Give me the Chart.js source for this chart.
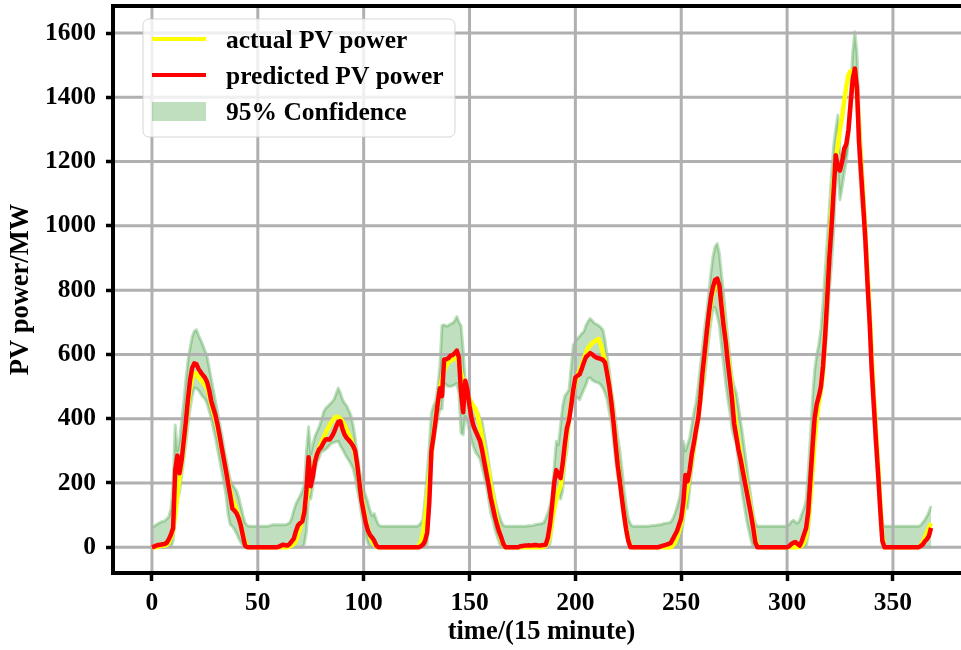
<!DOCTYPE html>
<html>
<head>
<meta charset="utf-8">
<title>PV power forecast</title>
<script src="https://cdn.jsdelivr.net/npm/chart.js@4.4.0/dist/chart.umd.min.js"></script>
<style>
html, body { margin: 0; padding: 0; background: #fff; overflow: hidden; }
#wrap { width: 990px; height: 650px; }
</style>
</head>
<body>
<div id="wrap"><canvas id="pvChart" width="990" height="650"></canvas></div>
<script>
// one value per 15-minute step, steps 0..368
var actualPower = [
	0, 0, 0, 2, 5, 5, 5, 8, 15, 30,
	55, 100, 160, 215, 260, 320, 380, 440, 490, 525,
	542, 540, 530, 520, 512, 505, 495, 475, 445, 420,
	398, 370, 338, 305, 272, 240, 205, 175, 150, 135,
	115, 95, 70, 40, 15, 3, 0, 0, 0, 0,
	0, 0, 0, 0, 0, 0, 0, 0, 0, 0,
	0, 0, 0, 0, 0, 3, 5, 10, 20, 40,
	60, 85, 115, 150, 185, 215, 245, 270, 290, 310,
	325, 340, 355, 368, 380, 392, 400, 406, 405, 400,
	392, 380, 365, 350, 335, 315, 290, 250, 205, 160,
	120, 85, 55, 35, 20, 8, 2, 0, 0, 0,
	0, 0, 0, 0, 0, 0, 0, 0, 0, 0,
	0, 0, 0, 0, 0, 0, 5, 15, 45, 90,
	150, 220, 290, 350, 400, 450, 490, 525, 550, 565,
	575, 580, 585, 590, 588, 570, 540, 520, 495, 475,
	460, 448, 438, 428, 405, 375, 340, 305, 270, 235,
	195, 160, 120, 85, 50, 22, 8, 0, 0, 0,
	0, 0, 0, 0, 0, 0, 0, 0, 0, 0,
	0, 0, 0, 0, 0, 2, 5, 15, 40, 80,
	120, 150, 175, 190, 240, 300, 350, 400, 445, 485,
	515, 535, 550, 565, 585, 605, 620, 628, 635, 640,
	645, 648, 630, 605, 580, 545, 505, 455, 395, 330,
	265, 210, 155, 105, 60, 25, 5, 0, 0, 0,
	0, 0, 0, 0, 0, 0, 0, 0, 0, 0,
	0, 0, 0, 0, 0, 0, 5, 15, 30, 50,
	75, 110, 150, 190, 230, 270, 315, 360, 405, 455,
	520, 585, 650, 710, 760, 795, 815, 822, 800, 765,
	705, 650, 595, 545, 490, 430, 375, 330, 290, 255,
	220, 185, 150, 112, 72, 30, 5, 0, 0, 0,
	0, 0, 0, 0, 0, 0, 0, 0, 0, 0,
	0, 0, 0, 0, 0, 0, 2, 5, 15, 35,
	80, 150, 240, 330, 400, 450, 490, 545, 660, 790,
	920, 1040, 1140, 1210, 1250, 1300, 1340, 1390, 1435, 1470,
	1482, 1480, 1470, 1420, 1300, 1190, 1085, 975, 850, 730,
	590, 470, 360, 255, 140, 35, 0, 0, 0, 0,
	0, 0, 0, 0, 0, 0, 0, 0, 0, 0,
	0, 0, 0, 5, 15, 30, 45, 60, 75
];

var predictedPower = [
	0, 2, 5, 7, 8, 9, 10, 14, 25, 40,
	60, 240, 285, 230, 270, 330, 390, 460, 520, 558,
	572, 570, 555, 545, 536, 528, 515, 490, 455, 432,
	410, 380, 345, 308, 272, 237, 198, 160, 120, 114,
	105, 90, 67, 35, 5, 0, 0, 0, 0, 0,
	0, 0, 0, 0, 0, 0, 0, 0, 0, 0,
	2, 5, 8, 6, 5, 10, 18, 27, 50, 68,
	75, 80, 110, 180, 280, 190, 220, 265, 290, 305,
	312, 325, 335, 336, 335, 345, 358, 375, 390, 392,
	368, 350, 340, 333, 325, 315, 300, 255, 200, 145,
	110, 76, 52, 38, 30, 20, 5, 0, 0, 0,
	0, 0, 0, 0, 0, 0, 0, 0, 0, 0,
	0, 0, 0, 0, 0, 0, 0, 3, 8, 20,
	45, 140, 300, 345, 395, 450, 495, 470, 584, 585,
	588, 596, 598, 604, 612, 590, 480, 420, 518, 490,
	440, 400, 375, 360, 345, 330, 300, 265, 230, 195,
	155, 125, 95, 70, 48, 30, 10, 0, 0, 0,
	0, 0, 0, 0, 3, 4, 5, 5, 6, 5,
	6, 7, 6, 5, 6, 7, 8, 30, 70, 130,
	200, 240, 225, 215, 260, 320, 370, 395, 440, 490,
	528, 534, 538, 555, 575, 592, 598, 604, 600, 594,
	590, 588, 586, 583, 575, 540, 500, 450, 390, 320,
	255, 205, 150, 100, 55, 20, 0, 0, 0, 0,
	0, 0, 0, 0, 0, 0, 0, 0, 0, 0,
	2, 4, 6, 8, 10, 13, 25, 38, 50, 70,
	90, 140, 225, 205, 240, 290, 325, 365, 400, 460,
	540, 600, 665, 725, 775, 810, 832, 836, 815, 750,
	690, 640, 575, 520, 460, 385, 345, 305, 275, 240,
	205, 170, 135, 100, 60, 15, 0, 0, 0, 0,
	0, 0, 0, 0, 0, 0, 0, 0, 0, 0,
	0, 3, 10, 14, 16, 10, 5, 20, 40, 60,
	110, 210, 310, 400, 445, 470, 500, 565, 660, 780,
	905, 1000, 1110, 1220, 1180, 1172, 1200, 1240, 1255, 1300,
	1380, 1455, 1490, 1430, 1260, 1160, 1060, 955, 820, 700,
	550, 440, 330, 230, 120, 20, 0, 0, 0, 0,
	0, 0, 0, 0, 0, 0, 0, 0, 0, 0,
	0, 0, 0, 3, 8, 18, 25, 35, 60
];

// 95% band around the prediction
var upperBound = [
	62, 65, 70, 74, 78, 80, 82, 88, 96, 120,
	200, 380, 300, 330, 390, 450, 520, 580, 620, 655,
	672, 677, 660, 645, 630, 612, 595, 560, 525, 490,
	455, 420, 385, 350, 310, 275, 240, 210, 195, 185,
	175, 155, 127, 100, 76, 68, 65, 65, 65, 65,
	65, 65, 65, 65, 65, 66, 68, 70, 70, 70,
	70, 70, 70, 70, 72, 76, 90, 115, 135, 148,
	160, 175, 195, 300, 375, 290, 320, 345, 360, 375,
	395, 420, 432, 438, 445, 452, 460, 478, 495, 480,
	460, 448, 440, 425, 410, 380, 340, 290, 240, 200,
	180, 160, 140, 115, 98, 105, 85, 70, 66, 65,
	65, 65, 65, 65, 65, 65, 65, 65, 65, 65,
	65, 65, 65, 65, 65, 65, 68, 75, 86, 150,
	230, 320, 418, 440, 455, 500, 563, 690, 692, 688,
	690, 695, 697, 705, 718, 700, 690, 615, 515, 480,
	465, 455, 440, 425, 418, 400, 390, 350, 310, 265,
	225, 185, 150, 120, 100, 80, 68, 65, 65, 65,
	65, 65, 65, 65, 65, 65, 65, 66, 67, 67,
	68, 70, 72, 72, 74, 76, 90, 107, 130, 158,
	250, 330, 320, 380, 440, 470, 480, 490, 560, 630,
	640, 650, 656, 665, 671, 690, 703, 712, 705, 697,
	694, 690, 684, 677, 645, 595, 552, 490, 450, 395,
	345, 300, 245, 180, 130, 90, 72, 65, 65, 65,
	65, 65, 65, 65, 65, 66, 67, 68, 68, 70,
	70, 72, 74, 75, 76, 78, 88, 105, 125, 150,
	180, 330, 300, 320, 340, 380, 420, 450, 500, 560,
	620, 680, 730, 790, 853, 905, 935, 945, 915, 850,
	790, 720, 650, 590, 530, 500, 480, 440, 395, 350,
	300, 250, 200, 150, 105, 75, 65, 65, 65, 65,
	65, 65, 65, 65, 65, 65, 65, 65, 65, 65,
	66, 70, 80, 84, 78, 75, 85, 105, 120, 148,
	240, 340, 460, 550, 600, 630, 680, 760, 860, 960,
	1060, 1160, 1250, 1300, 1345, 1230, 1215, 1210, 1225, 1320,
	1420, 1540, 1604, 1540, 1360, 1240, 1125, 1010, 880, 770,
	620, 490, 370, 260, 150, 75, 65, 65, 65, 65,
	65, 65, 65, 65, 65, 65, 65, 65, 65, 65,
	65, 65, 65, 68, 76, 85, 96, 110, 128
];

var lowerBound = [
	0, 0, 0, 0, 0, 0, 0, 0, 0, 0,
	20, 100, 150, 170, 220, 270, 320, 380, 430, 470,
	495, 495, 488, 478, 468, 462, 448, 425, 402, 370,
	340, 305, 270, 235, 200, 160, 100, 70, 65, 55,
	42, 27, 15, 5, 0, 0, 0, 0, 0, 0,
	0, 0, 0, 0, 0, 0, 0, 0, 0, 0,
	0, 0, 0, 0, 0, 0, 0, 0, 0, 0,
	0, 0, 10, 50, 158, 150, 190, 240, 265, 280,
	297, 300, 304, 310, 318, 324, 326, 328, 330, 315,
	305, 292, 280, 270, 258, 245, 215, 180, 145, 100,
	70, 38, 12, 0, 0, 0, 0, 0, 0, 0,
	0, 0, 0, 0, 0, 0, 0, 0, 0, 0,
	0, 0, 0, 0, 0, 0, 0, 0, 0, 0,
	10, 120, 273, 320, 366, 400, 428, 430, 511, 505,
	500, 500, 502, 505, 510, 480, 355, 350, 407, 390,
	360, 330, 310, 293, 285, 273, 245, 218, 190, 150,
	107, 85, 55, 35, 15, 0, 0, 0, 0, 0,
	0, 0, 0, 0, 0, 0, 0, 0, 0, 0,
	0, 0, 0, 0, 0, 0, 0, 0, 10, 60,
	130, 175, 165, 150, 175, 260, 300, 380, 428, 450,
	469, 465, 459, 475, 490, 505, 525, 527, 520, 516,
	513, 511, 505, 495, 480, 459, 420, 387, 330, 270,
	220, 190, 140, 86, 40, 15, 0, 0, 0, 0,
	0, 0, 0, 0, 0, 0, 0, 0, 0, 0,
	0, 0, 0, 0, 0, 0, 0, 0, 0, 10,
	34, 80, 128, 120, 180, 240, 290, 340, 400, 450,
	490, 521, 585, 646, 700, 745, 745, 720, 690, 630,
	570, 510, 460, 420, 366, 340, 324, 265, 210, 160,
	120, 80, 50, 20, 0, 0, 0, 0, 0, 0,
	0, 0, 0, 0, 0, 0, 0, 0, 0, 0,
	0, 0, 0, 0, 0, 0, 0, 0, 0, 0,
	40, 120, 220, 330, 400, 440, 480, 540, 610, 700,
	801, 880, 980, 1150, 1170, 1081, 1120, 1164, 1200, 1270,
	1350, 1434, 1454, 1382, 1200, 1080, 1019, 900, 780, 660,
	500, 390, 280, 180, 70, 0, 0, 0, 0, 0,
	0, 0, 0, 0, 0, 0, 0, 0, 0, 0,
	0, 0, 0, 0, 0, 0, 0, 0, 0
];

var xTicks = [0, 50, 100, 150, 200, 250, 300, 350];
var yTicks = [0, 200, 400, 600, 800, 1000, 1200, 1400, 1600];

function toPoints(arr) {
	return arr.map(function (v, i) { return { x: i, y: v }; });
}

var serif = "'Liberation Serif', 'Times New Roman', serif";
Chart.defaults.font.family = serif;
Chart.defaults.font.weight = "bold";
Chart.defaults.color = "#000";

var bandColor = "rgba(0, 128, 0, 0.25)";

// gray grid goes above the band but under the two curves
var gridUnderLines = {
	id: "gridUnderLines",
	beforeDatasetDraw: function (chart, args) {
		if (args.index !== 1) return;
		var a = chart.chartArea, ctx = chart.ctx;
		var sx = chart.scales.x, sy = chart.scales.y;
		ctx.save();
		ctx.beginPath();
		ctx.rect(a.left + 2, a.top + 2, a.right - a.left - 4, a.bottom - a.top - 4);
		ctx.clip();
		ctx.strokeStyle = "#b0b0b0";
		ctx.lineWidth = 3;
		xTicks.forEach(function (v) {
			var px = sx.getPixelForValue(v);
			ctx.beginPath();
			ctx.moveTo(px, a.top);
			ctx.lineTo(px, a.bottom);
			ctx.stroke();
		});
		yTicks.forEach(function (v) {
			var py = sy.getPixelForValue(v);
			ctx.beginPath();
			ctx.moveTo(a.left, py);
			ctx.lineTo(a.right, py);
			ctx.stroke();
		});
		ctx.restore();
	}
};

// top frame line plus the boxed legend in the upper left corner
var frameAndLegend = {
	id: "frameAndLegend",
	afterDraw: function (chart) {
		var a = chart.chartArea, ctx = chart.ctx;
		ctx.save();
		ctx.strokeStyle = "#000";
		ctx.lineWidth = 4;
		ctx.beginPath();
		ctx.moveTo(a.left - 2, a.top);
		ctx.lineTo(a.right + 2, a.top);
		ctx.stroke();

		var bx = a.left + 30, by = a.top + 13, bw = 312, bh = 118;
		ctx.beginPath();
		ctx.roundRect(bx, by, bw, bh, 6);
		ctx.fillStyle = "rgba(255, 255, 255, 0.8)";
		ctx.fill();
		ctx.lineWidth = 1;
		ctx.strokeStyle = "rgba(204, 204, 204, 0.8)";
		ctx.stroke();

		var ds = chart.data.datasets;
		var items = [
			{ d: ds[1], kind: "line" },
			{ d: ds[0], kind: "line" },
			{ d: ds[2], kind: "patch" }
		];
		ctx.font = "bold 25.5px " + serif;
		ctx.textBaseline = "alphabetic";
		items.forEach(function (it, i) {
			var rowY = by + 20 + i * 36;
			var hx = bx + 9;
			if (it.kind === "line") {
				ctx.strokeStyle = it.d.borderColor;
				ctx.lineWidth = 4;
				ctx.beginPath();
				ctx.moveTo(hx, rowY);
				ctx.lineTo(hx + 54, rowY);
				ctx.stroke();
			} else {
				ctx.fillStyle = it.d.backgroundColor;
				ctx.fillRect(hx, rowY - 9, 54, 19);
			}
			ctx.fillStyle = "#000";
			ctx.fillText(it.d.label, bx + 83, rowY + 9);
		});
		ctx.restore();
	}
};

function noScalePadding(scale) {
	scale.paddingTop = 0;
	scale.paddingBottom = 0;
	scale.paddingLeft = 0;
	scale.paddingRight = 0;
}

var ctx = document.getElementById("pvChart");
var pvChart = new Chart(ctx, {
	type: "line",
	data: {
		datasets: [
			{
				label: "predicted PV power",
				data: toPoints(predictedPower),
				borderColor: "#ff0000",
				borderWidth: 4.5,
				pointRadius: 0,
				fill: false
			},
			{
				label: "actual PV power",
				data: toPoints(actualPower),
				borderColor: "#ffff00",
				borderWidth: 4.5,
				pointRadius: 0,
				fill: false
			},
			{
				label: "95% Confidence",
				data: toPoints(lowerBound),
				borderColor: bandColor,
				backgroundColor: bandColor,
				borderWidth: 3,
				pointRadius: 0,
				fill: "+1"
			},
			{
				label: "upper",
				data: toPoints(upperBound),
				borderColor: bandColor,
				borderWidth: 3,
				pointRadius: 0,
				fill: false
			}
		]
	},
	options: {
		responsive: false,
		animation: false,
		events: [],
		layout: { padding: { top: 6, right: 20, left: 0, bottom: 0 } },
		elements: { line: { tension: 0, borderJoinStyle: "round" } },
		plugins: {
			legend: { display: false },
			tooltip: { enabled: false }
		},
		scales: {
			x: {
				type: "linear",
				min: -18.4,
				max: 386.4,
				afterBuildTicks: function (scale) {
					scale.ticks = xTicks.map(function (v) { return { value: v }; });
				},
				afterFit: function (scale) {
					scale.height = 77;
					noScalePadding(scale);
				},
				grid: { drawOnChartArea: false, tickLength: 8, tickColor: "#000", tickWidth: 3.5 },
				border: { color: "#000", width: 4 },
				ticks: {
					autoSkip: false,
					maxRotation: 0,
					padding: 7,
					font: { size: 25.5, weight: "bold" },
					callback: function (v) { return String(v); }
				},
				title: {
					display: true,
					text: "time/(15 minute)",
					font: { size: 26.5, weight: "bold" },
					padding: { top: 0, bottom: 2 }
				}
			},
			y: {
				min: -80.2,
				max: 1684.2,
				afterBuildTicks: function (scale) {
					scale.ticks = yTicks.map(function (v) { return { value: v }; });
				},
				afterFit: function (scale) {
					scale.width = 113;
					noScalePadding(scale);
				},
				grid: { drawOnChartArea: false, tickLength: 7, tickColor: "#000", tickWidth: 3.5 },
				border: { color: "#000", width: 4 },
				ticks: {
					autoSkip: false,
					padding: 10,
					font: { size: 25.5, weight: "bold" },
					callback: function (v) { return String(v); }
				},
				title: {
					display: true,
					text: "PV power/MW",
					font: { size: 26.5, weight: "bold" },
					padding: { top: 5, bottom: 4 }
				}
			}
		}
	},
	plugins: [gridUnderLines, frameAndLegend]
});
</script>
</body>
</html>
